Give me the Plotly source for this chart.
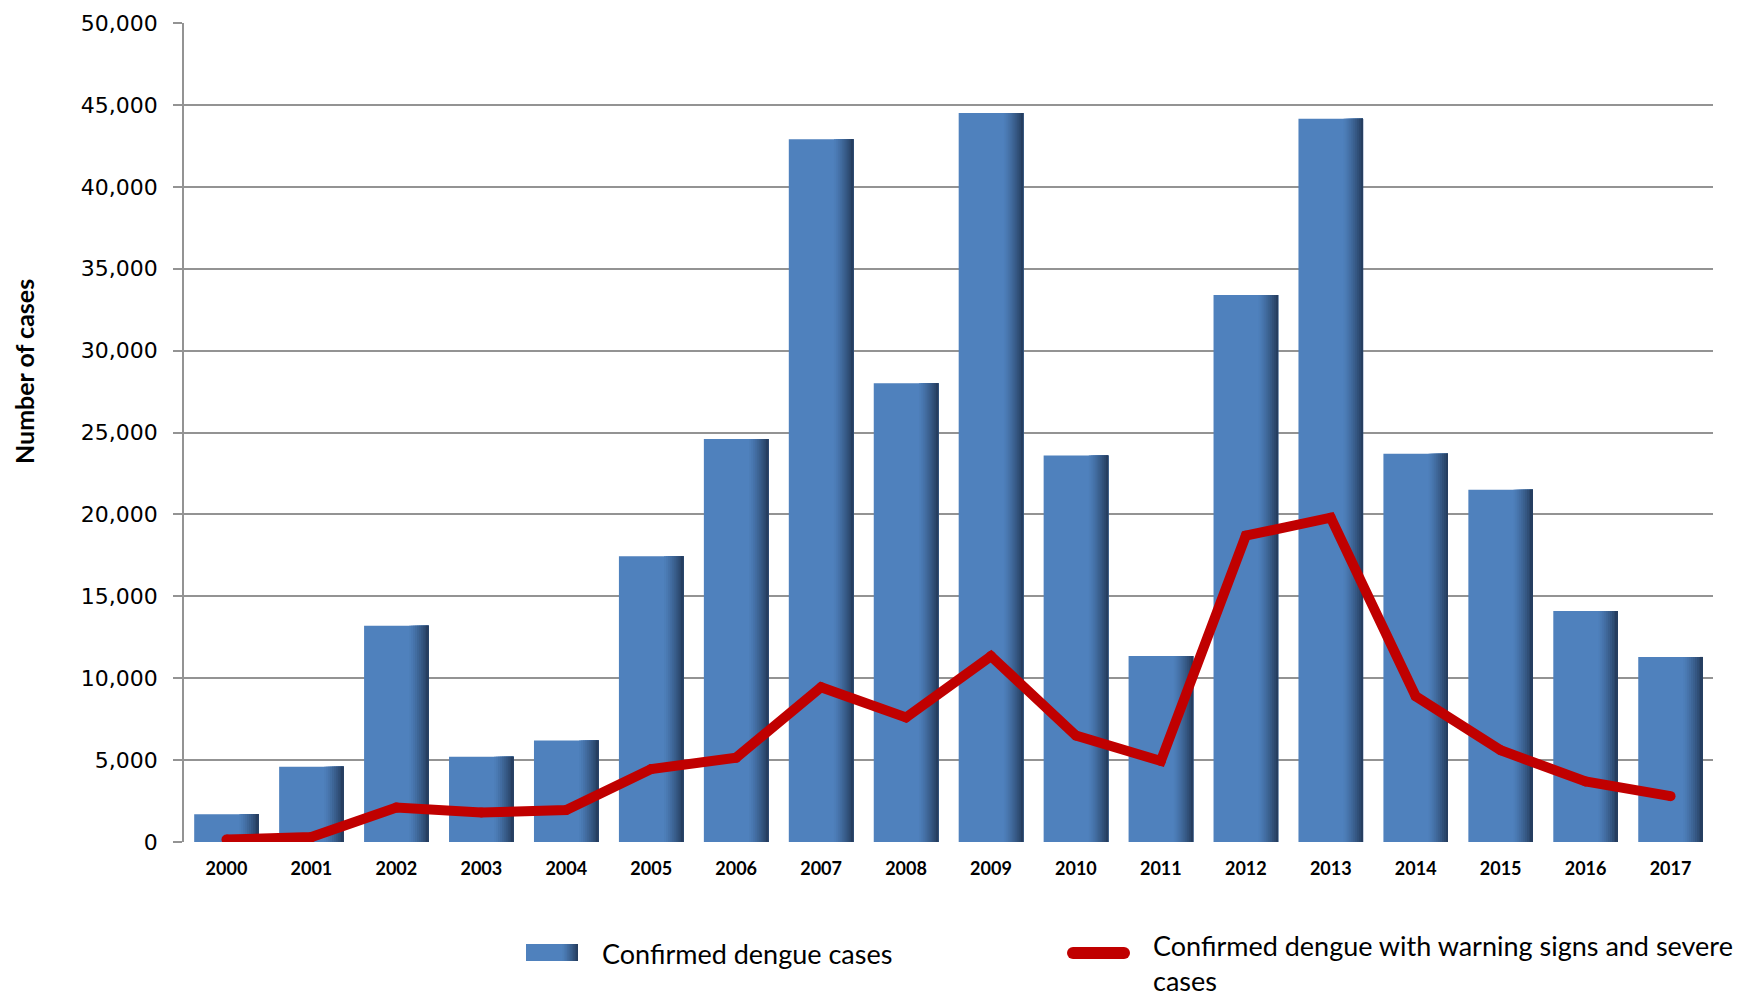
import plotly.graph_objects as go

# Yearly dengue figures
years = ["2000", "2001", "2002", "2003", "2004", "2005", "2006", "2007", "2008",
         "2009", "2010", "2011", "2012", "2013", "2014", "2015", "2016", "2017"]
confirmed_cases = [1700, 4600, 13200, 5200, 6200, 17450, 24600, 42900, 28000,
                   44500, 23600, 11350, 33400, 44150, 23700, 21500, 14100, 11300]
severe_cases = [150, 300, 2100, 1800, 1950, 4450, 5150, 9450, 7600,
                11350, 6500, 4950, 18700, 19800, 8900, 5600, 3700, 2800]

BAR_NAME = "Confirmed dengue cases"
LINE_NAME = "Confirmed dengue with warning signs and severe<br>cases"

BLUE = (79, 129, 189)
DARK = (38, 62, 96)
RED = "#C00000"
BAR_W = 0.76
SHADE_START = 0.70
N_STRIPS = 10

W, H = 1742, 997
L, R, T, B = 184, 29, 23, 155
PW, PH = W - L - R, H - T - B


def mix(c1, c2, t):
    return "rgb({},{},{})".format(*[round(a + (b - a) * t) for a, b in zip(c1, c2)])


def px(x):
    return (x - L) / PW


def py(y):
    return (H - B - y) / PH


fig = go.Figure()

fig.add_trace(go.Bar(
    x=years, y=confirmed_cases, width=BAR_W, name=BAR_NAME,
    marker=dict(color=mix(BLUE, BLUE, 0), line=dict(width=0)),
))

# darker strips towards the right edge of each bar give it a shaded, rounded look
for i in range(N_STRIPS):
    f0 = SHADE_START + (1 - SHADE_START) * i / N_STRIPS
    fig.add_trace(go.Bar(
        x=years, y=confirmed_cases,
        width=BAR_W * (1 - f0), offset=-BAR_W / 2 + BAR_W * f0,
        marker=dict(color=mix(BLUE, DARK, ((i + 1) / N_STRIPS) ** 1.3), line=dict(width=0)),
        showlegend=False, hoverinfo="skip",
    ))

# thick red line; same-size dots round off its joins and ends
fig.add_trace(go.Scatter(
    x=years, y=severe_cases, mode="lines+markers", name=LINE_NAME,
    line=dict(color=RED, width=10),
    marker=dict(color=RED, size=10, line=dict(width=0)),
))

# ---- legend below the plot, drawn as keys + text ----
shapes = []
# bar key with the same right-edge shading
kx0, kx1, ky0, ky1 = 526, 578, 944, 961
shapes.append(dict(type="rect", xref="paper", yref="paper",
                   x0=px(kx0), x1=px(kx1), y0=py(ky1), y1=py(ky0),
                   fillcolor=mix(BLUE, BLUE, 0), line=dict(width=0), layer="above"))
for i in range(N_STRIPS):
    f0 = SHADE_START + (1 - SHADE_START) * i / N_STRIPS
    sx0 = kx0 + (kx1 - kx0) * f0
    shapes.append(dict(type="rect", xref="paper", yref="paper",
                       x0=px(sx0), x1=px(kx1), y0=py(ky1), y1=py(ky0),
                       fillcolor=mix(BLUE, DARK, ((i + 1) / N_STRIPS) ** 1.3),
                       line=dict(width=0), layer="above"))
# line key with rounded ends
lx0, lx1, ly, lr = 1067, 1130, 953, 6
shapes.append(dict(type="rect", xref="paper", yref="paper",
                   x0=px(lx0 + lr), x1=px(lx1 - lr), y0=py(ly + lr), y1=py(ly - lr),
                   fillcolor=RED, line=dict(width=0), layer="above"))
for cx in (lx0 + lr, lx1 - lr):
    shapes.append(dict(type="circle", xref="paper", yref="paper",
                       x0=px(cx - lr), x1=px(cx + lr), y0=py(ly + lr), y1=py(ly - lr),
                       fillcolor=RED, line=dict(width=0), layer="above"))

legend_font = dict(family="Lato", size=27, color="black")
annotations = [
    dict(text=BAR_NAME, xref="paper", yref="paper", x=px(600), y=py(953.6),
         xanchor="left", yanchor="middle", align="left", showarrow=False,
         font=legend_font),
    dict(text=LINE_NAME, xref="paper", yref="paper", x=px(1153), y=py(963.5),
         xanchor="left", yanchor="middle", align="left", showarrow=False,
         font=legend_font, borderpad=0, borderwidth=0),
    dict(text="<b>Number of cases</b>", textangle=-90,
         xref="paper", yref="paper", x=px(24), y=py(372),
         xanchor="center", yanchor="middle", showarrow=False,
         font=dict(family="Lato", size=25, color="black")),
]

fig.update_layout(
    width=W, height=H,
    margin=dict(l=L, r=R, t=T, b=B, autoexpand=False),
    paper_bgcolor="white", plot_bgcolor="white",
    barmode="overlay",
    showlegend=False,
    xaxis=dict(
        type="category", range=[-0.5, len(years) - 0.5],
        showgrid=False, ticks="", showline=False,
        tickfont=dict(family="Lato", size=18, color="black", weight="bold"),
        ticklabelstandoff=14,
    ),
    yaxis=dict(
        range=[0, 50000], dtick=5000, tickformat=",",
        showgrid=True, gridcolor="#939393", gridwidth=1.6,
        zeroline=False,
        showline=True, linecolor="#939393", linewidth=1.6,
        ticks="outside", ticklen=9, tickcolor="#939393", tickwidth=1.6,
        tickfont=dict(family="DejaVu Sans", size=22, color="black"),
        ticklabelstandoff=11,
    ),
    shapes=shapes,
    annotations=annotations,
)

fig.write_html("out.html")
